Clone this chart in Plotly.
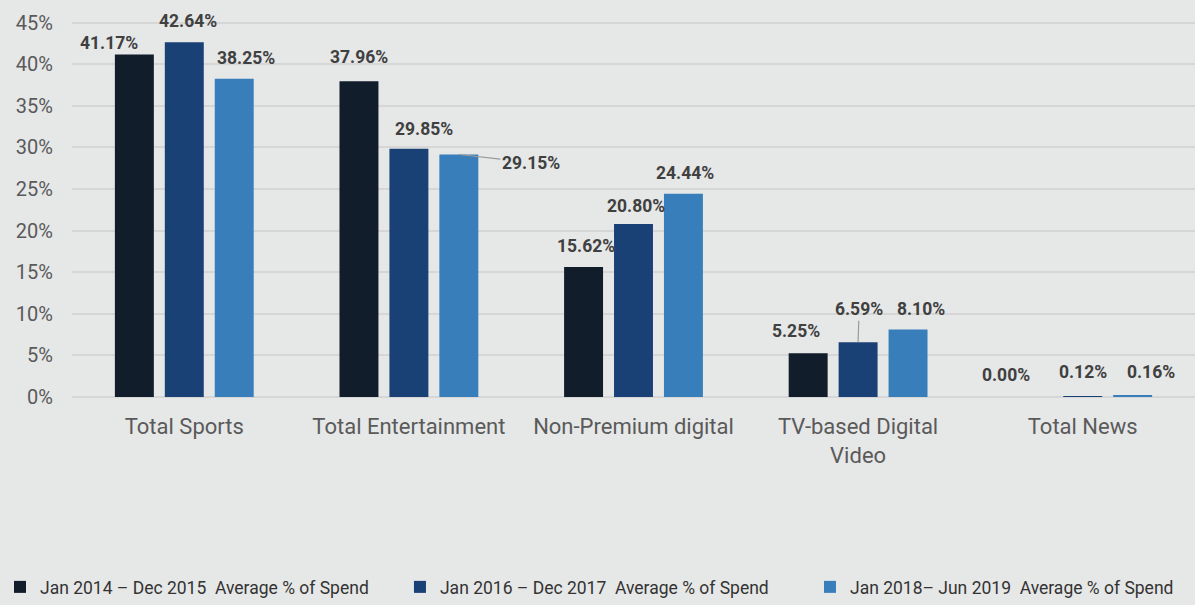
import plotly.graph_objects as go

categories = ["Total Sports", "Total Entertainment", "Non-Premium digital",
              "TV-based Digital<br>Video", "Total News"]
series_names = [
    "Jan 2014 – Dec 2015  Average % of Spend",
    "Jan 2016 – Dec 2017  Average % of Spend",
    "Jan 2018– Jun 2019  Average % of Spend",
]
spend_2014_2015 = [41.17, 37.96, 15.62, 5.25, 0.00]
spend_2016_2017 = [42.64, 29.85, 20.80, 6.59, 0.12]
spend_2018_2019 = [38.25, 29.15, 24.44, 8.10, 0.16]
series_values = [spend_2014_2015, spend_2016_2017, spend_2018_2019]

colors = ["#111d2a", "#1a4176", "#377ebb"]
bar_step = 50  # px between bar centres inside a group

# label nudges (px) relative to each bar's top centre: (dx, dy)
label_nudge = [
    [(-25, 12), (0, 24), (2, 21), (-12, 22), (-27, 22)],
    [(4, 21), (15, 20), (2, 18), (1, 33), (0, 24)],
    [(12, 21), (None, None), (1, 21), (13, 21), (18, 24)],
]
# one legend per series so entries sit where the original has them
legend_x = [-0.01, 0.3347, 0.6778]
legend_ids = ["legend", "legend2", "legend3"]

fig = go.Figure()
for name, vals, col, lg in zip(series_names, series_values, colors, legend_ids):
    fig.add_trace(go.Bar(x=categories, y=vals, name=name, legend=lg,
                         marker=dict(color=col, line=dict(width=0))))

lab_font = dict(family="Roboto", size=17.5, color="#404040", weight="bold")
for s, vals in enumerate(series_values):
    for c, v in enumerate(vals):
        dx, dy = label_nudge[s][c]
        base = (s - 1) * bar_step
        txt = f"{v:.2f}%"
        if dx is None:
            # 29.15% sits to the right with a leader line
            fig.add_annotation(x=categories[c], y=v, xshift=base, text=txt,
                               showarrow=True, arrowhead=0, arrowwidth=1.2,
                               arrowcolor="#9a9a9a", ax=72, ay=8,
                               font=lab_font)
        elif s == 1 and c == 3:
            fig.add_annotation(x=categories[c], y=v, xshift=base, text=txt,
                               showarrow=True, arrowhead=0, arrowwidth=1.2,
                               arrowcolor="#9a9a9a", ax=dx, ay=-dy,
                               standoff=0, font=lab_font)
        else:
            fig.add_annotation(x=categories[c], y=v, xshift=base + dx, yshift=dy,
                               text=txt, showarrow=False, font=lab_font)

legend_style = dict(orientation="h", xref="container", yref="container",
                    y=-0.024, xanchor="left", yanchor="bottom",
                    bgcolor="rgba(0,0,0,0)",
                    font=dict(family="Roboto", size=17.5, color="#333333"),
                    itemwidth=30)

fig.update_layout(
    width=1195, height=605,
    paper_bgcolor="#e6e7e7", plot_bgcolor="#e6e7e7",
    margin=dict(l=72, r=0, t=21, b=208),
    barmode="group", bargap=0.333, bargroupgap=0.22,
    showlegend=True,
    legend=dict(x=legend_x[0], **legend_style),
    legend2=dict(x=legend_x[1], **legend_style),
    legend3=dict(x=legend_x[2], **legend_style),
    font=dict(family="Roboto"),
)
fig.update_yaxes(range=[0, 45.2], dtick=5, ticksuffix="%", showgrid=True,
                 gridcolor="#d6d6d6", gridwidth=1.5, zeroline=True,
                 zerolinecolor="#d6d6d6", zerolinewidth=2,
                 tickfont=dict(family="Roboto", size=20, color="#5a5a5a"),
                 ticklabelstandoff=18)
fig.update_xaxes(showgrid=False, tickfont=dict(family="Roboto", size=22, color="#5a5a5a"),
                 ticklabelstandoff=14)

fig.write_html("out.html", config={"displayModeBar": False},
               post_script="document.body.style.margin='0';")
